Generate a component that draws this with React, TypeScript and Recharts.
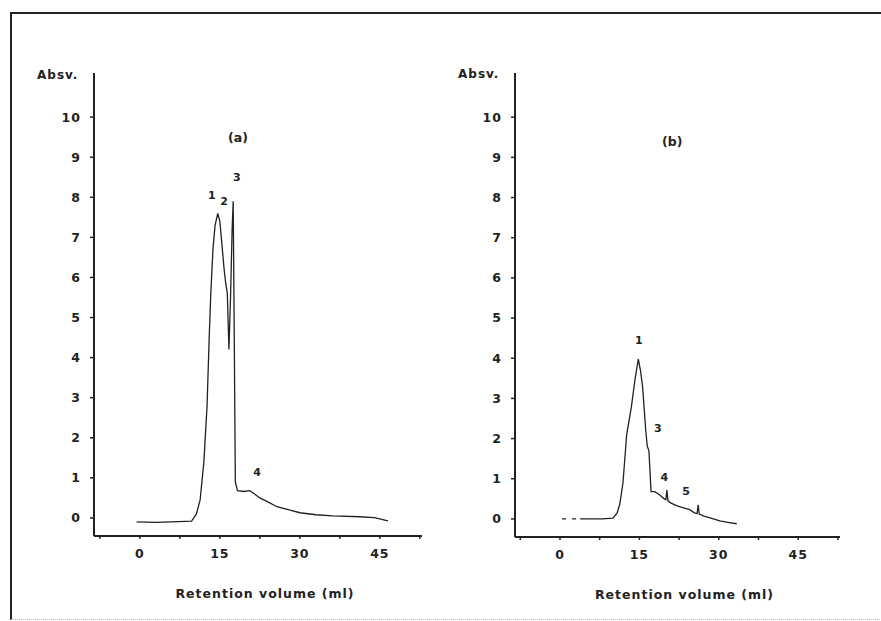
import { LineChart, Line, XAxis, YAxis, ReferenceDot } from 'recharts'

// panel (a)
const volumeA = [-0.6, 3, 6, 9.7, 10.6, 11.3, 12.0, 12.6, 13.0, 13.3, 13.7, 14.1, 14.6, 15.0, 15.4, 15.8, 16.1, 16.4, 16.7, 17.0, 17.3, 17.5, 17.7, 17.9, 18.3, 19.5, 20.6, 21.5, 22.5, 24, 25.7, 28, 30, 33, 36.2, 41.2, 44, 46.5]
const absA = [-0.1, -0.11, -0.1, -0.08, 0.1, 0.45, 1.4, 2.8, 4.5, 5.6, 6.7, 7.3, 7.6, 7.4, 6.8, 6.2, 5.85, 5.6, 4.2, 5.5, 7.2, 7.9, 4.5, 0.9, 0.68, 0.66, 0.68, 0.6, 0.5, 0.4, 0.28, 0.2, 0.13, 0.08, 0.05, 0.03, 0.01, -0.07]

// panel (b)
const leadVolumeB = [0.4, 1.2, 2.2, 3.8]
const leadAbsB = [0, 0, 0, 0]
const volumeB = [3.8, 6, 8, 10, 10.8, 11.3, 11.9, 12.6, 13.5, 14.2, 14.8, 15.2, 15.6, 16.2, 16.5, 16.8, 17.0, 17.2, 17.9, 18.8, 19.7, 20.0, 20.2, 20.4, 20.9, 22, 23.5, 24.5, 25.4, 25.9, 26.1, 26.3, 27.2, 28.5, 30.2, 32, 33.4]
const absB = [0, 0, 0, 0.02, 0.15, 0.37, 0.9, 2.1, 2.8, 3.5, 3.98, 3.7, 3.3, 2.2, 1.8, 1.7, 1.2, 0.68, 0.68, 0.6, 0.5, 0.48, 0.72, 0.45, 0.4, 0.33, 0.27, 0.23, 0.15, 0.13, 0.35, 0.12, 0.07, 0.02, -0.05, -0.09, -0.12]

const xTicks = [-7.5, 0, 7.5, 15, 22.5, 30, 37.5, 45, 52.5]
const yTicks = [0, 1, 2, 3, 4, 5, 6, 7, 8, 9, 10]

const peaksA = [
  { x: 13.5, y: 8.05, text: '1' },
  { x: 15.8, y: 7.9, text: '2' },
  { x: 18.2, y: 8.5, text: '3' },
  { x: 22, y: 1.15, text: '4' },
]
const peaksB = [
  { x: 14.9, y: 4.45, text: '1' },
  { x: 18.5, y: 2.25, text: '3' },
  { x: 19.7, y: 1.05, text: '4' },
  { x: 23.8, y: 0.7, text: '5' },
]

const ink = '#222'
const font = 'DejaVu Sans, sans-serif'
const tickStyle = { fill: ink, fontSize: 12.5, fontWeight: 700, fontFamily: font, letterSpacing: 1 }

const dataA = volumeA.map((v, i) => ({ v, abs: absA[i] }))
const dataB = [
  ...leadVolumeB.map((v, i) => ({ v, lead: leadAbsB[i] })),
  ...volumeB.map((v, i) => ({ v, abs: absB[i] })),
]

function showTick(t: number) {
  return t >= 0 && t % 15 === 0 ? String(t) : ''
}

interface PanelProps {
  data: any[]
  peaks: { x: number; y: number; text: string }[]
  tag: string
  tagPos: { x: number; y: number }
  left: number
  width: number
  margin: { left: number; right: number; top: number; bottom: number }
  xDomain: [number, number]
  dashedLead?: boolean
}

function Panel({ data, peaks, tag, tagPos, left, width, margin, xDomain, dashedLead }: PanelProps) {
  return (
    <div style={{ position: 'absolute', left, top: 0 }}>
      <LineChart width={width} height={621} data={data} margin={margin}>
        <XAxis
          dataKey="v"
          type="number"
          domain={xDomain}
          ticks={xTicks}
          tickFormatter={showTick}
          height={60}
          tickSize={3}
          tickMargin={10}
          tick={tickStyle}
          axisLine={{ stroke: ink, strokeWidth: 2 }}
          tickLine={{ stroke: ink, strokeWidth: 1.5 }}
          allowDataOverflow
          label={{ value: 'Retention volume (ml)', position: 'bottom', offset: -7, dx: 7, fill: ink, fontSize: 12.5, fontWeight: 700, fontFamily: font, letterSpacing: 1 }}
        />
        <YAxis
          type="number"
          domain={[-0.45, 11.1]}
          ticks={yTicks}
          width={50}
          tickSize={4}
          tickMargin={9}
          tick={tickStyle}
          axisLine={{ stroke: ink, strokeWidth: 2 }}
          tickLine={{ stroke: ink, strokeWidth: 1.5 }}
          allowDataOverflow
        />
        {dashedLead && (
          <Line dataKey="lead" type="linear" stroke={ink} strokeWidth={1.2} strokeDasharray="4 6" dot={false} isAnimationActive={false} />
        )}
        <Line dataKey="abs" type="linear" stroke={ink} strokeWidth={1.3} dot={false} isAnimationActive={false} />
        <ReferenceDot
          x={tagPos.x}
          y={tagPos.y}
          r={1}
          fill="none"
          stroke="none"
          label={{ value: tag, position: 'center', fill: ink, fontSize: 12.5, fontWeight: 700, fontFamily: font }}
        />
        {peaks.map((p) => (
          <ReferenceDot
            key={p.text}
            x={p.x}
            y={p.y}
            r={1}
            fill="none"
            stroke="none"
            label={{ value: p.text, position: 'center', fill: ink, fontSize: 11, fontWeight: 700, fontFamily: font }}
          />
        ))}
      </LineChart>
    </div>
  )
}

const absvStyle: React.CSSProperties = {
  position: 'absolute',
  fontFamily: font,
  fontWeight: 700,
  fontSize: 12,
  letterSpacing: 1,
  color: ink,
}

export default function App() {
  return (
    <div style={{ position: 'absolute', left: 0, top: 0, width: 881, height: 621, background: '#fff', overflow: 'hidden' }}>
      <div
        style={{
          position: 'absolute',
          left: 10,
          top: 12,
          width: 880,
          height: 605,
          borderLeft: `2px solid ${ink}`,
          borderTop: `2px solid ${ink}`,
          borderBottom: '1px dotted #bbb',
        }}
      />
      <Panel
        data={dataA}
        peaks={peaksA}
        tag="(a)"
        tagPos={{ x: 18.4, y: 9.5 }}
        left={0}
        width={440}
        margin={{ left: 44, right: 18, top: 73, bottom: 25 }}
        xDomain={[-8.6, 52.9]}
      />
      <Panel
        data={dataB}
        peaks={peaksB}
        tag="(b)"
        tagPos={{ x: 21.2, y: 9.4 }}
        left={440}
        width={441}
        margin={{ left: 25, right: 41, top: 73, bottom: 24 }}
        xDomain={[-8.5, 52.9]}
        dashedLead
      />
      <div style={{ ...absvStyle, left: 37, top: 68 }}>Absv.</div>
      <div style={{ ...absvStyle, left: 458, top: 67 }}>Absv.</div>
    </div>
  )
}
